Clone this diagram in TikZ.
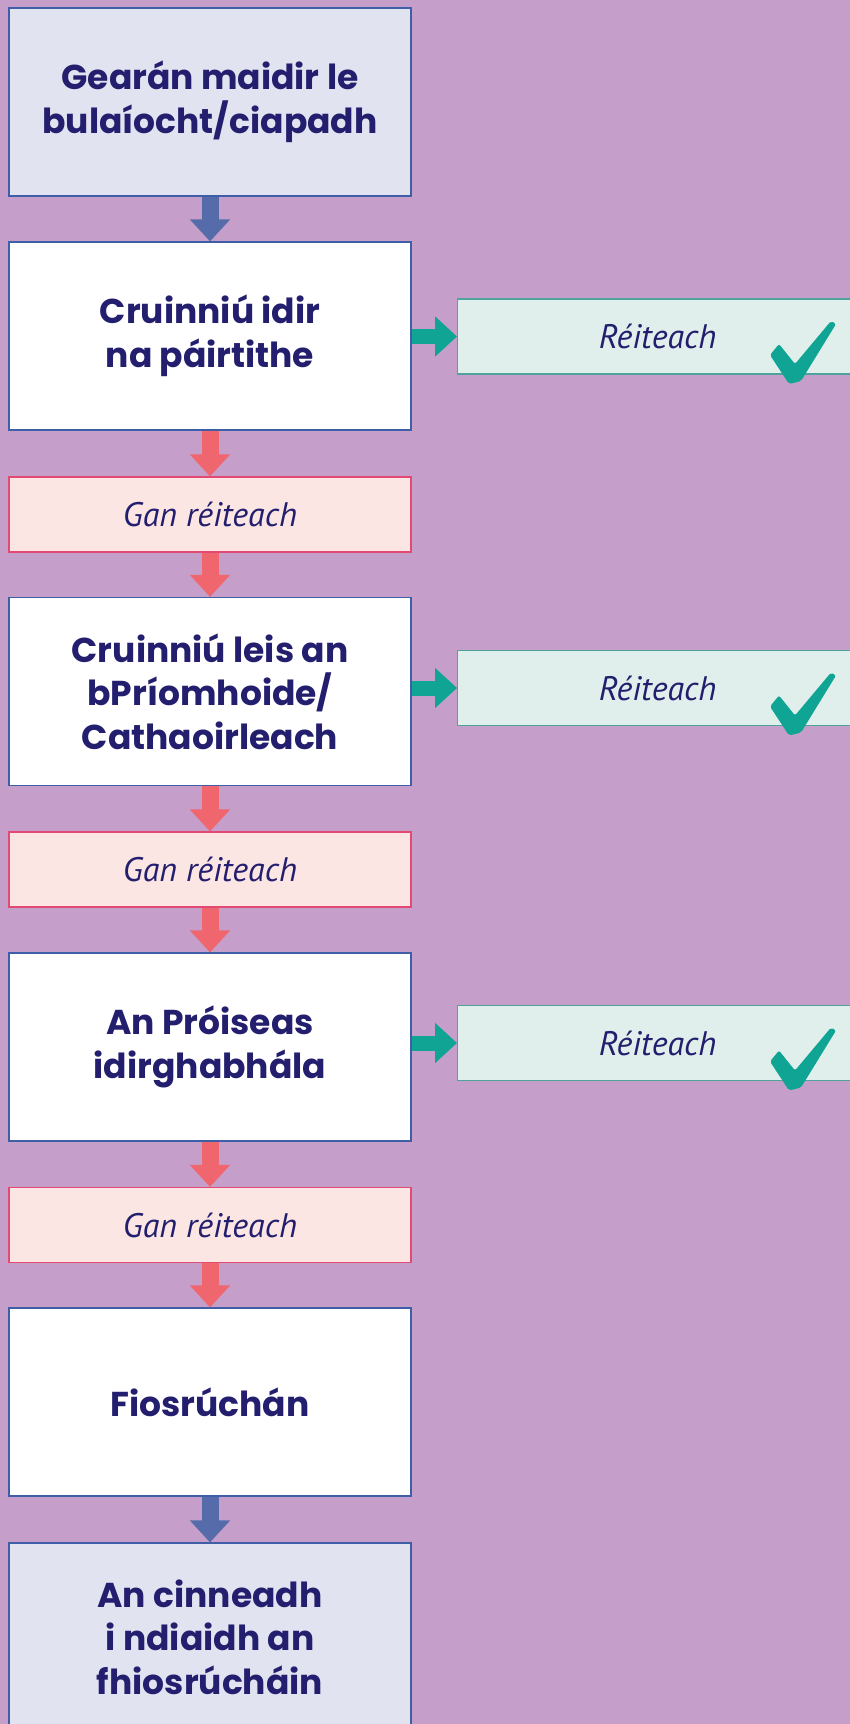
\documentclass[tikz,border=0pt]{standalone}
\usepackage{fontspec}
\setmainfont{Poppins}
\newfontfamily\itfont{PT Sans}
\usetikzlibrary{arrows.meta,calc}
\definecolor{bgpurple}{RGB}{197,159,201}
\definecolor{navytext}{RGB}{35,31,110}
\definecolor{blueborder}{RGB}{62,94,168}
\definecolor{lavfill}{RGB}{225,227,240}
\definecolor{ganfill}{RGB}{252,230,228}
\definecolor{ganborder}{RGB}{226,74,116}
\definecolor{reifill}{RGB}{224,239,236}
\definecolor{reiborder}{RGB}{79,163,155}
\definecolor{arrowblue}{RGB}{86,107,170}
\definecolor{arrowred}{RGB}{240,102,111}
\definecolor{arrowgreen}{RGB}{15,164,147}
\tikzset{
  mainbox/.style={draw=blueborder, line width=1.2pt, fill=white, minimum width=402pt, minimum height=188pt, inner sep=0pt, align=center, text=navytext, font=\fontsize{34.5}{43.5}\selectfont\bfseries},
  endbox/.style={mainbox, fill=lavfill},
  ganbox/.style={draw=ganborder, line width=1.2pt, fill=ganfill, minimum width=402pt, minimum height=75pt, inner sep=0pt, text=navytext, font=\itfont\itshape\fontsize{34}{40}\selectfont},
  reibox/.style={draw=reiborder, line width=1.2pt, fill=reifill, minimum width=400pt, minimum height=75pt, inner sep=0pt, anchor=west, text=navytext, font=\itfont\itshape\fontsize{34}{40}\selectfont},
  blockarrow/.style={line width=17pt, -{Triangle[width=39pt,length=22pt]}},
  barrow/.style={blockarrow, draw=arrowblue},
  rarrow/.style={blockarrow, draw=arrowred},
  garrow/.style={line width=15pt, draw=arrowgreen, -{Triangle[width=39pt,length=22pt]}},
  tick/.pic={\fill[arrowgreen, rounded corners=2pt] (313,18.5) -- (322,7.5) -- (338,27.5) -- (374,-15.5) -- (379,-12.5) -- (344,44.5) -- (332,47.5) -- cycle;}
}
\begin{document}
\begin{tikzpicture}[x=1pt,y=-1pt]
\useasboundingbox (0,0) rectangle (850,1724);
\clip (0,0) rectangle (850,1724);
\fill[bgpurple] (0,0) rectangle (850,1724);
\node[endbox] (b1) at (210,102) {Gearán maidir le\\bulaíocht/ciapadh};
\node[mainbox] (b2) at (210,336) {Cruinniú idir\\na páirtithe};
\node[ganbox] (g1) at (210,514.5) {Gan réiteach};
\node[mainbox] (b3) at (210,691.5) {Cruinniú leis an\\bPríomhoide/\\Cathaoirleach};
\node[ganbox] (g2) at (210,869.5) {Gan réiteach};
\node[mainbox] (b4) at (210,1047) {An Próiseas\\idirghabhála};
\node[ganbox] (g3) at (210,1225) {Gan réiteach};
\node[mainbox] (b5) at (210,1402) {Fiosrúchán};
\node[endbox] (b6) at (210,1637) {An cinneadh\\i ndiaidh an\\fhiosrúcháin};
\node[reibox] (r1) at (457,336.5) {Réiteach};
\node[reibox] (r2) at (457,688) {Réiteach};
\node[reibox] (r3) at (457,1043) {Réiteach};
\pic at (r1.west) {tick};
\pic at (r2.west) {tick};
\pic at (r3.west) {tick};
\draw[barrow] (b1.south) -- (b2.north);
\draw[rarrow] (b2.south) -- (g1.north);
\draw[rarrow] (g1.south) -- (b3.north);
\draw[rarrow] (b3.south) -- (g2.north);
\draw[rarrow] (g2.south) -- (b4.north);
\draw[rarrow] (b4.south) -- (g3.north);
\draw[rarrow] (g3.south) -- (b5.north);
\draw[barrow] (b5.south) -- (b6.north);
\draw[garrow] (r1.west -| b2.east) -- (r1.west);
\draw[garrow] (r2.west -| b3.east) -- (r2.west);
\draw[garrow] (r3.west -| b4.east) -- (r3.west);
\end{tikzpicture}
\end{document}
